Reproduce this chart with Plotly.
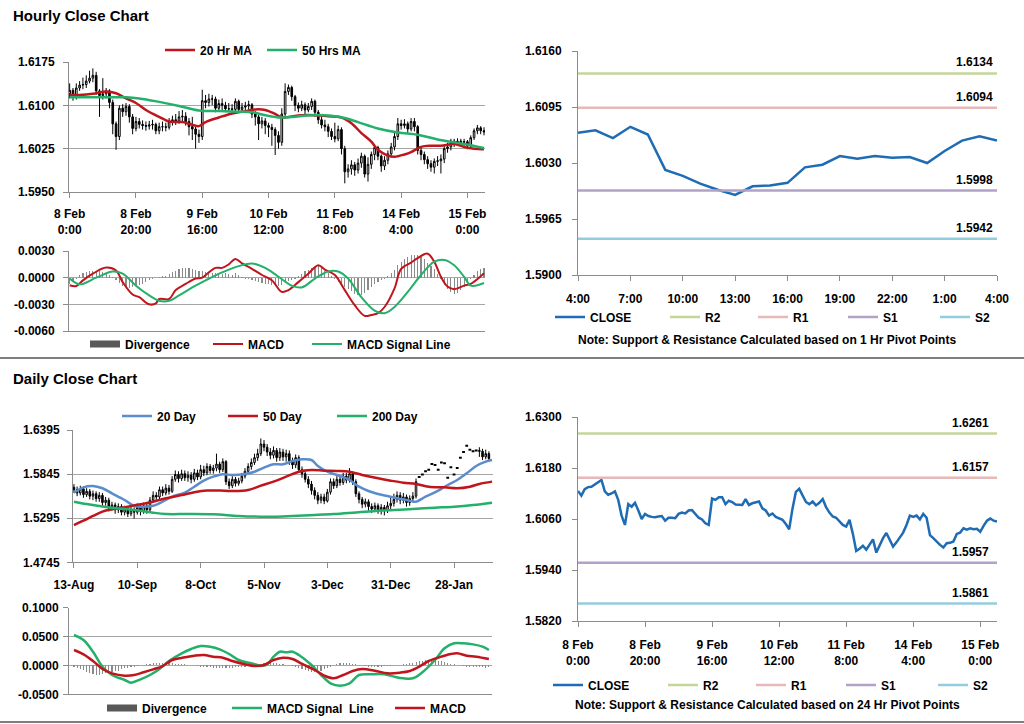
import plotly.graph_objects as go

W, H = 1024, 724
FONT = "Liberation Sans, Arial, sans-serif"

RED = "#c0151c"
GREEN = "#23b06a"
BLUE_MA = "#5b8ccb"
BLUE_CLOSE = "#1f6cb4"
GRAY_BAR = "#8a8a8a"
PIVOT_COLORS = {"R2": "#c3d69b", "R1": "#e6b9b8", "S1": "#b3a2c7", "S2": "#93cddd"}

# ---------------- Hourly data (bar index = hour) ----------------
hourly_labels = ["8 Feb<br>0:00", "8 Feb<br>20:00", "9 Feb<br>16:00", "10 Feb<br>12:00",
                 "11 Feb<br>8:00", "14 Feb<br>4:00", "15 Feb<br>0:00"]
hourly_label_bars = [0, 20, 40, 60, 80, 100, 120]

hourly_first_open = 1.6120
hourly_close = [
    1.6126, 1.6115, 1.6130, 1.6135, 1.6136, 1.6142, 1.6147, 1.6152, 1.6125, 1.6117,
    1.6120, 1.6125, 1.6105, 1.6068, 1.6046, 1.6095, 1.6089, 1.6098, 1.6080, 1.6060,
    1.6072, 1.6067, 1.6065, 1.6064, 1.6066, 1.6067, 1.6056, 1.6063, 1.6063, 1.6062,
    1.6072, 1.6075, 1.6073, 1.6080, 1.6081, 1.6072, 1.6063, 1.6059, 1.6050, 1.6046,
    1.6108, 1.6105, 1.6111, 1.6111, 1.6095, 1.6103, 1.6100, 1.6094, 1.6094, 1.6093,
    1.6107, 1.6093, 1.6097, 1.6099, 1.6101, 1.6085, 1.6080, 1.6068, 1.6073, 1.6065,
    1.6062, 1.6058, 1.6048, 1.6036, 1.6085, 1.6124, 1.6131, 1.6115, 1.6100, 1.6095,
    1.6101, 1.6092, 1.6098, 1.6107, 1.6088, 1.6075, 1.6066, 1.6063, 1.6055, 1.6046,
    1.6042, 1.6058, 1.6025, 1.5985, 1.5990, 1.5997, 1.5988, 1.6000, 1.6012, 1.5981,
    1.5998, 1.6015, 1.6027, 1.6012, 1.5995, 1.6005, 1.6016, 1.6028, 1.6046, 1.6068,
    1.6065, 1.6068, 1.6059, 1.6072, 1.6063, 1.6022, 1.6015, 1.6006, 1.5999, 1.5993,
    1.6003, 1.6004, 1.6007, 1.6025, 1.6028, 1.6038, 1.6035, 1.6038, 1.6036, 1.6037,
    1.6030, 1.6044, 1.6056, 1.6061, 1.6056, 1.6054]
hourly_high = [
    1.6138, 1.6130, 1.6138, 1.6142, 1.6148, 1.6152, 1.6160, 1.6164, 1.6158, 1.6128,
    1.6147, 1.6130, 1.6128, 1.6110, 1.6072, 1.6100, 1.6102, 1.6104, 1.6102, 1.6085,
    1.6080, 1.6078, 1.6074, 1.6072, 1.6073, 1.6075, 1.6070, 1.6070, 1.6072, 1.6070,
    1.6078, 1.6082, 1.6085, 1.6090, 1.6092, 1.6088, 1.6078, 1.6080, 1.6065, 1.6058,
    1.6127, 1.6118, 1.6120, 1.6118, 1.6115, 1.6110, 1.6112, 1.6106, 1.6104, 1.6102,
    1.6112, 1.6110, 1.6104, 1.6106, 1.6108, 1.6104, 1.6090, 1.6084, 1.6080, 1.6078,
    1.6070, 1.6068, 1.6062, 1.6055, 1.6095, 1.6138, 1.6136, 1.6134, 1.6118, 1.6105,
    1.6108, 1.6105, 1.6104, 1.6112, 1.6110, 1.6092, 1.6080, 1.6075, 1.6068, 1.6060,
    1.6070, 1.6065, 1.6062, 1.6030, 1.5998, 1.6005, 1.6002, 1.6008, 1.6018, 1.6015,
    1.6010, 1.6020, 1.6032, 1.6030, 1.6015, 1.6012, 1.6022, 1.6035, 1.6052, 1.6078,
    1.6075, 1.6076, 1.6072, 1.6078, 1.6078, 1.6066, 1.6028, 1.6020, 1.6012, 1.6005,
    1.6008, 1.6012, 1.6015, 1.6030, 1.6035, 1.6042, 1.6042, 1.6043, 1.6042, 1.6042,
    1.6040, 1.6048, 1.6060, 1.6066, 1.6064, 1.6062]
hourly_low = [
    1.6112, 1.6108, 1.6110, 1.6125, 1.6128, 1.6130, 1.6138, 1.6140, 1.6118, 1.6080,
    1.6110, 1.6112, 1.6095, 1.6050, 1.6023, 1.6040, 1.6080, 1.6082, 1.6070, 1.6050,
    1.6055, 1.6060, 1.6058, 1.6056, 1.6058, 1.6058, 1.6050, 1.6050, 1.6055, 1.6055,
    1.6058, 1.6065, 1.6066, 1.6068, 1.6070, 1.6065, 1.6048, 1.6040, 1.6025, 1.6035,
    1.6040, 1.6095, 1.6098, 1.6100, 1.6088, 1.6090, 1.6092, 1.6088, 1.6088, 1.6087,
    1.6088, 1.6088, 1.6088, 1.6090, 1.6092, 1.6078, 1.6065, 1.6040, 1.6060, 1.6050,
    1.6045, 1.6030, 1.6014, 1.6025, 1.6030, 1.6080, 1.6118, 1.6108, 1.6090, 1.6088,
    1.6090, 1.6085, 1.6088, 1.6092, 1.6080, 1.6068, 1.6060, 1.6055, 1.6045, 1.6040,
    1.6036, 1.6038, 1.6015, 1.5965, 1.5975, 1.5980, 1.5978, 1.5982, 1.5992, 1.5975,
    1.5968, 1.5990, 1.6005, 1.6005, 1.5985, 1.5988, 1.5998, 1.6010, 1.6022, 1.6040,
    1.6058, 1.6060, 1.6052, 1.6055, 1.6055, 1.6015, 1.6005, 1.5998, 1.5990, 1.5985,
    1.5982, 1.5995, 1.5982, 1.6000, 1.6018, 1.6022, 1.6028, 1.6030, 1.6030, 1.6030,
    1.6024, 1.6026, 1.6040, 1.6050, 1.6050, 1.6048]

hr_ma20_x = [0, 3, 7, 11, 14, 17, 20, 23, 27, 30, 34, 36, 39, 41, 45, 49, 53, 56, 59, 62,
             64, 66, 70, 74, 78, 82, 85, 88, 91, 93, 96, 98, 101, 103, 106, 109, 112, 116, 119, 122, 125]
hr_ma20 = [1.6118, 1.6118, 1.6120, 1.6124, 1.6121, 1.6112, 1.6104, 1.6092, 1.6080, 1.6072,
           1.6071, 1.6068, 1.6064, 1.6071, 1.6079, 1.6086, 1.6090, 1.6093, 1.6092, 1.6085,
           1.6079, 1.6080, 1.6083, 1.6083, 1.6081, 1.6079, 1.6069, 1.6052, 1.6037, 1.6023,
           1.6013, 1.6011, 1.6015, 1.6019, 1.6028, 1.6030, 1.6030, 1.6033, 1.6028, 1.6025, 1.6024]
hr_ma50_x = [0, 5, 11, 17, 21, 27, 33, 39, 45, 51, 55, 59, 63, 67, 73, 79, 83, 87, 93, 99,
             105, 111, 117, 121, 125]
hr_ma50 = [1.6114, 1.6114, 1.6114, 1.6114, 1.6112, 1.6106, 1.6099, 1.6091, 1.6090, 1.6089,
           1.6088, 1.6083, 1.6079, 1.6080, 1.6083, 1.6082, 1.6078, 1.6071, 1.6060, 1.6053,
           1.6049, 1.6041, 1.6035, 1.6031, 1.6026]

hr_macd_x = [0, 2, 4, 7, 11, 14, 16, 19, 21, 24, 26, 27, 30, 32, 35, 38, 40, 42, 44, 46,
             48, 50, 52, 55, 58, 61, 64, 66, 69, 72, 75, 77, 80, 83, 86, 89, 91, 93, 95, 98,
             100, 103, 105, 108, 110, 112, 114, 116, 119, 121, 125]
hr_macd = [-0.00086, -0.00094, -0.0003, 0.00045, 0.00113, 0.0008, -0.0005, -0.0019, -0.0022, -0.0030,
           -0.0029, -0.0024, -0.0024, -0.0014, -0.0007, -0.0001, 0.0, 0.0006, 0.0011, 0.0011,
           0.0015, 0.0021, 0.0016, 0.0010, 0.0003, -0.0003, -0.0016, -0.0014, -0.0005, 0.00045,
           0.0014, 0.0009, 0.0003, -0.0014, -0.0031, -0.0043, -0.0042, -0.0040, -0.0033, -0.0012,
           0.0010, 0.0017, 0.0022, 0.0027, 0.0018, 0.0001, -0.0010, -0.0013, -0.0009, -0.0007, 0.0005]
hr_signal_x = [0, 3, 8, 13, 16, 20, 24, 27, 30, 33, 37, 41, 46, 51, 55, 59, 63, 67, 70, 74,
               78, 81, 84, 88, 92, 95, 98, 102, 106, 110, 113, 116, 119, 121, 125]
hr_signal = [-0.0001, -0.00075, 0.0, 0.0007, 0.00045, -0.0009, -0.0020, -0.0026, -0.0026, -0.0020,
             -0.0011, -0.0003, 0.0006, 0.0013, 0.0016, 0.0011, 0.0001, -0.0009, -0.0011, -0.0001,
             0.0007, 0.0007, -0.0001, -0.0022, -0.0037, -0.0040, -0.0033, -0.0016, 0.0003, 0.0018,
             0.0020, 0.0014, 0.0001, -0.0009, -0.0006]
hr_divergence = [
    -0.0007, -0.0005, -0.0002, 0.0003, 0.0005, 0.0006, 0.0007, 0.0007, 0.0008, 0.0007,
    0.0006, 0.0005, 0.0003, 0.0001, -0.0003, -0.0006, -0.0009, -0.0011, -0.0012, -0.0011,
    -0.0009, -0.0008, -0.0007, -0.0005, -0.0003, -0.0002, 0.0000, 0.0001, 0.0002, 0.0002,
    0.0004, 0.0006, 0.0008, 0.0010, 0.0011, 0.0011, 0.0011, 0.0010, 0.0009, 0.0008,
    0.0007, 0.0006, 0.0006, 0.0005, 0.0005, 0.0004, 0.0004, 0.0005, 0.0004, 0.0003,
    0.0005, 0.0003, 0.0001, -0.0001, -0.0002, -0.0003, -0.0004, -0.0005, -0.0006, -0.0007,
    -0.0007, -0.0008, -0.0009, -0.0009, -0.0008, -0.0006, -0.0004, -0.0003, -0.0001, 0.0002,
    0.0004, 0.0007, 0.0009, 0.0011, 0.0012, 0.0013, 0.0011, 0.0008, 0.0005, 0.0002,
    -0.0002, -0.0005, -0.0008, -0.0011, -0.0013, -0.0015, -0.0018, -0.0019, -0.0020, -0.0017,
    -0.0014, -0.0010, -0.0007, -0.0005, -0.0003, -0.0001, 0.0002, 0.0005, 0.0009, 0.0014,
    0.0018, 0.0021, 0.0023, 0.0025, 0.0026, 0.0025, 0.0023, 0.0021, 0.0017, 0.0013,
    0.0010, 0.0004, -0.0002, -0.0008, -0.0013, -0.0016, -0.0018, -0.0017, -0.0014, -0.0010,
    -0.0006, -0.0002, 0.0003, 0.0007, 0.0010, 0.0011]

# last-24h view (bars 100..124 of the hourly close)
last24_start, last24_end = 100, 124
last24_labels = ["4:00", "7:00", "10:00", "13:00", "16:00", "19:00", "22:00", "1:00", "4:00"]
last24_label_bars = [100, 103, 106, 109, 112, 115, 118, 121, 124]
pivot_names = ["R2", "R1", "S1", "S2"]
pivots_1hr = [1.6134, 1.6094, 1.5998, 1.5942]
pivots_24hr = [1.6261, 1.6157, 1.5957, 1.5861]

# ---------------- Daily data ----------------
daily_labels = ["13-Aug", "10-Sep", "8-Oct", "5-Nov", "3-Dec", "31-Dec", "28-Jan"]
daily_label_bars = [0, 20, 40, 60, 80, 100, 120]
daily_first_open = 1.568
daily_close = [
    1.565, 1.561, 1.566, 1.559, 1.563, 1.557, 1.560, 1.554, 1.558, 1.549,
    1.552, 1.543, 1.546, 1.540, 1.544, 1.537, 1.541, 1.535, 1.540, 1.537,
    1.543, 1.538, 1.545, 1.540, 1.552, 1.558, 1.556, 1.565, 1.561, 1.567,
    1.563, 1.578, 1.584, 1.579, 1.585, 1.580, 1.583, 1.578, 1.586, 1.581,
    1.590, 1.586, 1.594, 1.589, 1.592, 1.597, 1.590, 1.600, 1.575, 1.570,
    1.578, 1.573, 1.576, 1.582, 1.588, 1.594, 1.599, 1.605, 1.610, 1.622,
    1.618, 1.612, 1.608, 1.614, 1.605, 1.612, 1.606, 1.610, 1.601, 1.596,
    1.605, 1.590, 1.585, 1.578, 1.572, 1.564, 1.558, 1.552, 1.556, 1.551,
    1.562, 1.575, 1.570, 1.578, 1.574, 1.582, 1.577, 1.585, 1.575, 1.560,
    1.553, 1.547, 1.550, 1.544, 1.541, 1.545, 1.540, 1.543, 1.539, 1.545,
    1.548, 1.553, 1.558, 1.552, 1.556, 1.549, 1.554, 1.557, 1.575, 1.581,
    1.584, 1.588, 1.590, 1.597, 1.596, 1.590, 1.599, 1.598, 1.580, 1.593,
    1.584, 1.592, 1.605, 1.612, 1.620, 1.615, 1.613, 1.614, 1.613, 1.606,
    1.610, 1.604]
daily_high = [
    1.572, 1.569, 1.570, 1.569, 1.567, 1.566, 1.564, 1.563, 1.562, 1.561,
    1.556, 1.555, 1.550, 1.549, 1.548, 1.547, 1.545, 1.544, 1.544, 1.543,
    1.548, 1.546, 1.549, 1.548, 1.556, 1.563, 1.562, 1.569, 1.569, 1.572,
    1.571, 1.582, 1.589, 1.588, 1.590, 1.589, 1.588, 1.587, 1.591, 1.590,
    1.596, 1.595, 1.598, 1.597, 1.596, 1.610, 1.600, 1.604, 1.602, 1.579,
    1.582, 1.581, 1.580, 1.586, 1.592, 1.598, 1.604, 1.610, 1.616, 1.629,
    1.627, 1.622, 1.617, 1.619, 1.617, 1.617, 1.616, 1.615, 1.614, 1.605,
    1.609, 1.608, 1.594, 1.589, 1.582, 1.576, 1.568, 1.562, 1.560, 1.560,
    1.566, 1.579, 1.579, 1.582, 1.582, 1.586, 1.586, 1.592, 1.588, 1.578,
    1.563, 1.556, 1.554, 1.553, 1.548, 1.549, 1.548, 1.547, 1.546, 1.550,
    1.556, 1.560, 1.563, 1.562, 1.561, 1.559, 1.558, 1.562, 1.579] + [None] * 19 + [
    1.618, 1.616, 1.615, 1.613]
daily_low = [
    1.561, 1.557, 1.558, 1.555, 1.556, 1.553, 1.552, 1.550, 1.550, 1.545,
    1.545, 1.538, 1.539, 1.535, 1.536, 1.533, 1.533, 1.531, 1.532, 1.529,
    1.534, 1.533, 1.535, 1.535, 1.538, 1.549, 1.551, 1.553, 1.557, 1.558,
    1.559, 1.561, 1.575, 1.574, 1.576, 1.576, 1.575, 1.573, 1.575, 1.577,
    1.578, 1.582, 1.583, 1.585, 1.585, 1.588, 1.586, 1.587, 1.571, 1.566,
    1.567, 1.569, 1.570, 1.573, 1.579, 1.585, 1.590, 1.596, 1.601, 1.607,
    1.613, 1.607, 1.603, 1.604, 1.600, 1.601, 1.601, 1.600, 1.596, 1.591,
    1.592, 1.586, 1.580, 1.574, 1.567, 1.559, 1.553, 1.547, 1.548, 1.547,
    1.549, 1.559, 1.566, 1.567, 1.570, 1.571, 1.573, 1.574, 1.571, 1.556,
    1.548, 1.542, 1.543, 1.539, 1.536, 1.537, 1.535, 1.534, 1.533, 1.536,
    1.541, 1.544, 1.549, 1.547, 1.548, 1.544, 1.545, 1.550, 1.554] + [None] * 19 + [
    1.606, 1.602, 1.603, 1.601]

d_ma20_x = [0, 3, 6, 9, 12, 16, 19, 22, 25, 28, 31, 35, 38, 41, 44, 47, 50, 54, 57, 60,
            63, 66, 69, 72, 75, 77, 80, 84, 87, 90, 93, 96, 99, 102, 106, 108, 111, 115, 118, 121,
            124, 127, 130, 132]
d_ma20 = [1.5613, 1.5680, 1.5697, 1.5668, 1.5605, 1.5522, 1.5447, 1.5439, 1.5451, 1.5501,
          1.5564, 1.5613, 1.5688, 1.5763, 1.5813, 1.5842, 1.5834, 1.5846, 1.5875, 1.5925,
          1.5967, 1.5967, 1.6008, 1.6029, 1.6021, 1.5946, 1.5875, 1.5821, 1.5771, 1.5688,
          1.5634, 1.5597, 1.5572, 1.5543, 1.5514, 1.5501, 1.5564, 1.5638, 1.5709, 1.5771,
          1.5855, 1.5946, 1.6000, 1.6021]
d_ma50_x = [0, 3, 6, 9, 12, 17, 21, 25, 29, 34, 38, 42, 46, 50, 55, 59, 63, 67, 71, 75,
            79, 83, 87, 91, 96, 100, 104, 108, 112, 117, 121, 125, 128, 132]
d_ma50 = [1.5210, 1.5264, 1.5323, 1.5377, 1.5406, 1.5439, 1.5468, 1.5501, 1.5543, 1.5584,
          1.5618, 1.5639, 1.5639, 1.5634, 1.5647, 1.5701, 1.5751, 1.5813, 1.5875, 1.5896,
          1.5888, 1.5884, 1.5875, 1.5834, 1.5792, 1.5763, 1.5738, 1.5722, 1.5688, 1.5680,
          1.5668, 1.5688, 1.5722, 1.5751]
d_ma200_x = [0, 4, 8, 12, 17, 21, 25, 29, 36, 44, 52, 59, 63, 69, 76, 82, 88, 95, 101, 107,
             114, 120, 126, 132]
d_ma200 = [1.5501, 1.5472, 1.5447, 1.5426, 1.5406, 1.5389, 1.5364, 1.5347, 1.5347, 1.5343,
           1.5323, 1.5314, 1.5314, 1.5323, 1.5335, 1.5347, 1.5364, 1.5385, 1.5397, 1.5410,
           1.5426, 1.5439, 1.5460, 1.5489]

d_signal_x = [0, 3, 6, 9, 12, 16, 18, 21, 24, 27, 30, 34, 37, 40, 43, 46, 49, 52, 56, 59,
              61, 63, 65, 67, 69, 71, 75, 78, 81, 84, 87, 90, 94, 98, 101, 104, 107, 110, 114, 117,
              120, 123, 126, 129, 131]
d_signal = [0.0527, 0.0440, 0.0238, -0.0022, -0.0166, -0.0252, -0.0298, -0.0241, -0.0166, -0.0062,
            0.0077, 0.0210, 0.0285, 0.0336, 0.0325, 0.0279, 0.0198, 0.0094, 0.0037, -0.0004,
            0.0019, 0.0152, 0.0238, 0.0227, 0.0238, 0.0181, 0.0008, -0.0166, -0.0310, -0.0350,
            -0.0310, -0.0166, -0.0154, -0.0154, -0.0194, -0.0223, -0.0223, -0.0119, 0.0094, 0.0296,
            0.0383, 0.0383, 0.0365, 0.0325, 0.0267]
d_macd_x = [0, 3, 6, 9, 12, 16, 19, 22, 25, 28, 31, 35, 38, 41, 44, 47, 50, 54, 57, 60,
            63, 66, 69, 72, 76, 79, 82, 85, 88, 91, 95, 99, 103, 106, 109, 112, 116, 119, 121, 124,
            127, 131]
d_macd = [0.0267, 0.0192, 0.0077, -0.0062, -0.0137, -0.0177, -0.0166, -0.0119, -0.0068, -0.0010,
          0.0094, 0.0140, 0.0169, 0.0181, 0.0152, 0.0134, 0.0077, 0.0019, -0.0010, 0.0008,
          0.0094, 0.0134, 0.0111, 0.0025, -0.0079, -0.0177, -0.0223, -0.0166, -0.0096, -0.0062,
          -0.0091, -0.0137, -0.0125, -0.0096, -0.0021, 0.0077, 0.0152, 0.0198, 0.0210, 0.0169,
          0.0152, 0.0111]
d_divergence = [
    -0.002, -0.004, -0.006, -0.008, -0.011, -0.013, -0.015, -0.016, -0.016, -0.015,
    -0.013, -0.012, -0.011, -0.010, -0.009, -0.007, -0.005, -0.004, -0.003, -0.002,
    -0.001, 0.000, 0.001, 0.002, 0.003, 0.004, 0.004, 0.005, 0.005, 0.005,
    0.004, 0.004, 0.003, 0.003, 0.002, 0.002, 0.001, 0.001, 0.000, -0.001,
    -0.002, -0.002, -0.003, -0.003, -0.004, -0.004, -0.005, -0.005, -0.005, -0.004,
    -0.004, -0.003, -0.003, -0.002, -0.002, -0.001, 0.000, 0.001, 0.002, 0.003,
    0.004, 0.005, 0.005, 0.004, 0.004, 0.003, 0.002, 0.001, 0.000, -0.001,
    -0.002, -0.004, -0.006, -0.008, -0.010, -0.011, -0.012, -0.011, -0.009, -0.007,
    -0.004, -0.002, 0.001, 0.003, 0.004, 0.005, 0.005, 0.004, 0.003, 0.002,
    0.001, 0.000, -0.001, -0.002, -0.002, -0.002, -0.002, -0.002, -0.001, -0.001,
    -0.001, 0.000, 0.000, 0.001, 0.002, 0.003, 0.004, 0.005, 0.006, 0.007,
    0.008, 0.009, 0.009, 0.009, 0.008, 0.008, 0.007, 0.006, 0.004, 0.003,
    0.002, 0.001, 0.000, -0.001, -0.002, -0.002, -0.003, -0.003, -0.003, -0.003,
    -0.004, -0.003]

# axis tick values
hr_price_ticks = [1.5950, 1.6025, 1.6100, 1.6175]
hr_macd_ticks = [-0.0060, -0.0030, 0.0000, 0.0030]
last24_ticks = [1.5900, 1.5965, 1.6030, 1.6095, 1.6160]
d_price_ticks = [1.4745, 1.5295, 1.5845, 1.6395]
d_macd_ticks = [-0.0500, 0.0000, 0.0500, 0.1000]
hr24_ticks = [1.5820, 1.5940, 1.6060, 1.6180, 1.6300]


def fx(p):
    return p / W


def fy(p):
    return 1 - p / H


def fmt(v):
    return f"{v:.4f}"


fig = go.Figure()

# ---------- Hourly candles + MAs ----------
hourly_bars = list(range(len(hourly_close)))
hourly_open = [hourly_first_open] + hourly_close[:-1]
fig.add_trace(go.Candlestick(
    x=hourly_bars, open=hourly_open, high=hourly_high, low=hourly_low, close=hourly_close,
    xaxis="x", yaxis="y", showlegend=False, whiskerwidth=0,
    increasing=dict(line=dict(color="black", width=1), fillcolor="white"),
    decreasing=dict(line=dict(color="black", width=1), fillcolor="black")))
fig.add_trace(go.Scatter(x=hr_ma20_x, y=hr_ma20, mode="lines", name="20 Hr MA",
                         line=dict(color=RED, width=2.5, shape="spline"),
                         xaxis="x", yaxis="y", legend="legend"))
fig.add_trace(go.Scatter(x=hr_ma50_x, y=hr_ma50, mode="lines", name="50 Hrs MA",
                         line=dict(color=GREEN, width=2.5, shape="spline"),
                         xaxis="x", yaxis="y", legend="legend"))

# ---------- Hourly MACD ----------
fig.add_trace(go.Bar(x=hourly_bars, y=hr_divergence, width=0.35, marker=dict(color=GRAY_BAR, line=dict(width=0)),
                     xaxis="x2", yaxis="y2", showlegend=False))
fig.add_trace(go.Scatter(x=[None], y=[None], mode="lines", name="Divergence",
                         line=dict(color="#595959", width=7), xaxis="x2", yaxis="y2", legend="legend2"))
fig.add_trace(go.Scatter(x=hr_macd_x, y=hr_macd, mode="lines", name="MACD",
                         line=dict(color=RED, width=2, shape="spline"),
                         xaxis="x2", yaxis="y2", legend="legend2"))
fig.add_trace(go.Scatter(x=hr_signal_x, y=hr_signal, mode="lines", name="MACD Signal Line",
                         line=dict(color=GREEN, width=2, shape="spline"),
                         xaxis="x2", yaxis="y2", legend="legend2"))

# ---------- Last 24 hours with 1 Hr pivots ----------
last24_bars = list(range(last24_start, last24_end + 1))
fig.add_trace(go.Scatter(x=last24_bars, y=hourly_close[last24_start:last24_end + 1], mode="lines",
                         name="CLOSE", line=dict(color=BLUE_CLOSE, width=2.5),
                         xaxis="x3", yaxis="y3", legend="legend3"))
for nm, lv in zip(pivot_names, pivots_1hr):
    fig.add_trace(go.Scatter(x=[last24_start, last24_end], y=[lv, lv], mode="lines", name=nm,
                             line=dict(color=PIVOT_COLORS[nm], width=2.5),
                             xaxis="x3", yaxis="y3", legend="legend3"))
    fig.add_annotation(x=last24_end, y=lv, xref="x3", yref="y3", text=fmt(lv), showarrow=False,
                       xanchor="right", yanchor="bottom", yshift=2, xshift=-2,
                       font=dict(family=FONT, size=12, color="black", weight="bold"))

# ---------- Daily candles + MAs ----------
daily_bars = list(range(len(daily_close)))
daily_open = [daily_first_open] + daily_close[:-1]
ci = [i for i in daily_bars if daily_high[i] is not None]
di = [i for i in daily_bars if daily_high[i] is None]
fig.add_trace(go.Candlestick(
    x=ci, open=[daily_open[i] for i in ci], high=[daily_high[i] for i in ci],
    low=[daily_low[i] for i in ci], close=[daily_close[i] for i in ci],
    xaxis="x4", yaxis="y4", showlegend=False, whiskerwidth=0,
    increasing=dict(line=dict(color="black", width=1), fillcolor="white"),
    decreasing=dict(line=dict(color="black", width=1), fillcolor="black")))
fig.add_trace(go.Scatter(x=di, y=[daily_close[i] for i in di], mode="markers", showlegend=False,
                         marker=dict(symbol="line-ew", size=2, color="black", line=dict(color="black", width=2)),
                         xaxis="x4", yaxis="y4"))
fig.add_trace(go.Scatter(x=d_ma20_x, y=d_ma20, mode="lines", name="20 Day",
                         line=dict(color=BLUE_MA, width=2.5, shape="spline"),
                         xaxis="x4", yaxis="y4", legend="legend4"))
fig.add_trace(go.Scatter(x=d_ma50_x, y=d_ma50, mode="lines", name="50 Day",
                         line=dict(color=RED, width=2.5, shape="spline"),
                         xaxis="x4", yaxis="y4", legend="legend4"))
fig.add_trace(go.Scatter(x=d_ma200_x, y=d_ma200, mode="lines", name="200 Day",
                         line=dict(color=GREEN, width=2.5, shape="spline"),
                         xaxis="x4", yaxis="y4", legend="legend4"))

# ---------- Daily MACD ----------
fig.add_trace(go.Bar(x=daily_bars, y=d_divergence, width=0.35, marker=dict(color=GRAY_BAR, line=dict(width=0)),
                     xaxis="x5", yaxis="y5", showlegend=False))
fig.add_trace(go.Scatter(x=[None], y=[None], mode="lines", name="Divergence",
                         line=dict(color="#595959", width=7), xaxis="x5", yaxis="y5", legend="legend5"))
fig.add_trace(go.Scatter(x=d_signal_x, y=d_signal, mode="lines", name="MACD Signal  Line",
                         line=dict(color=GREEN, width=2.5, shape="spline"),
                         xaxis="x5", yaxis="y5", legend="legend5"))
fig.add_trace(go.Scatter(x=d_macd_x, y=d_macd, mode="lines", name="MACD",
                         line=dict(color=RED, width=2.5, shape="spline"),
                         xaxis="x5", yaxis="y5", legend="legend5"))

# ---------- Hourly close with 24 Hr pivots ----------
fig.add_trace(go.Scatter(x=hourly_bars, y=hourly_close, mode="lines", name="CLOSE",
                         line=dict(color=BLUE_CLOSE, width=2.5),
                         xaxis="x6", yaxis="y6", legend="legend6"))
for nm, lv in zip(pivot_names, pivots_24hr):
    fig.add_trace(go.Scatter(x=[hourly_bars[0], hourly_bars[-1]], y=[lv, lv], mode="lines", name=nm,
                             line=dict(color=PIVOT_COLORS[nm], width=2.5),
                             xaxis="x6", yaxis="y6", legend="legend6"))
    fig.add_annotation(x=hourly_bars[-1], y=lv, xref="x6", yref="y6", text=fmt(lv), showarrow=False,
                       xanchor="right", yanchor="bottom", yshift=2, xshift=-6,
                       font=dict(family=FONT, size=12, color="black", weight="bold"))

# ---------- Axes ----------
TICKFONT = dict(family=FONT, size=12, color="black", weight="bold")
AXLINE = "#8c8c8c"
GRID = "#a6a6a6"


def xax(domain, rng, anchor, tickvals=None, ticktext=None, standoff=6):
    d = dict(domain=domain, range=rng, anchor=anchor, showline=True, linecolor=AXLINE, linewidth=1,
             showgrid=False, zeroline=False, fixedrange=True, tickfont=TICKFONT, automargin=False,
             rangeslider=dict(visible=False))
    if tickvals is None:
        d.update(showticklabels=False, ticks="")
    else:
        d.update(tickmode="array", tickvals=tickvals, ticktext=ticktext, ticks="outside",
                 ticklen=5, tickcolor=AXLINE, ticklabelstandoff=standoff)
    return d


def yax(domain, rng, anchor, tickvals, grid, standoff=6):
    return dict(domain=domain, range=rng, anchor=anchor, showline=True, linecolor=AXLINE, linewidth=1,
                showgrid=grid, gridcolor=GRID, gridwidth=1, zeroline=False, fixedrange=True,
                tickmode="array", tickvals=tickvals, ticktext=[fmt(v) for v in tickvals],
                ticks="outside", ticklen=5, tickcolor=AXLINE, tickfont=TICKFONT, automargin=False,
                ticklabelstandoff=standoff)


LEG = dict(orientation="h", bgcolor="rgba(0,0,0,0)", borderwidth=0, itemwidth=30,
           font=dict(family=FONT, size=12, color="black", weight="bold"),
           xanchor="left", yanchor="middle", itemclick=False, itemdoubleclick=False)

fig.update_layout(
    width=W, height=H, margin=dict(l=0, r=0, t=0, b=0, pad=0, autoexpand=False), autosize=False,
    paper_bgcolor="white", plot_bgcolor="white",
    font=dict(family=FONT, size=12, color="black"),
    bargap=0,
    xaxis=xax([fx(69), fx(485)], [-0.2, 125.3], "y", hourly_label_bars, hourly_labels, 6),
    yaxis=yax([fy(192), fy(62)], [1.5950, 1.6175], "x", hr_price_ticks, True, 6),
    xaxis2=xax([fx(69), fx(485)], [-0.2, 125.3], "y2"),
    yaxis2=yax([fy(331), fy(251)], [-0.0060, 0.0030], "x2", hr_macd_ticks, True, 6),
    xaxis3=xax([fx(578), fx(997)], [last24_start, last24_end], "y3", last24_label_bars, last24_labels, 8),
    yaxis3=yax([fy(275), fy(51)], [1.5900, 1.6160], "x3", last24_ticks, False, 8),
    xaxis4=xax([fx(73), fx(493)], [-0.3, 132.3], "y4", daily_label_bars, daily_labels, 6),
    yaxis4=yax([fy(562.3), fy(430)], [1.4745, 1.6395], "x4", d_price_ticks, True, 5),
    xaxis5=xax([fx(69), fx(492)], [-1.58, 131.98], "y5"),
    yaxis5=yax([fy(694.3), fy(607.7)], [-0.0500, 0.1000], "x5", d_macd_ticks, True, 2),
    xaxis6=xax([fx(578), fx(997)], [0, 125], "y6", hourly_label_bars, hourly_labels, 8),
    yaxis6=yax([fy(621), fy(417)], [1.5820, 1.6300], "x6", hr24_ticks, False, 8),
    legend=dict(LEG, x=fx(160), y=fy(50)),
    legend2=dict(LEG, x=fx(85), y=fy(344)),
    legend3=dict(LEG, x=fx(550), y=fy(317)),
    legend4=dict(LEG, x=fx(117), y=fy(416)),
    legend5=dict(LEG, x=fx(102), y=fy(708)),
    legend6=dict(LEG, x=fx(548), y=fy(685)),
    showlegend=True,
)

# per-item legend widths (gap between entries as in the reference)
legend_widths = {
    ("legend", "20 Hr MA"): 57, ("legend2", "Divergence"): 78, ("legend2", "MACD"): 54,
    ("legend3", "CLOSE"): 70, ("legend3", "R2"): 43, ("legend3", "R1"): 45, ("legend3", "S1"): 47,
    ("legend4", "20 Day"): 61, ("legend4", "50 Day"): 64,
    ("legend5", "Divergence"): 80, ("legend5", "MACD Signal  Line"): 118,
    ("legend6", "CLOSE"): 70, ("legend6", "R2"): 43, ("legend6", "R1"): 45, ("legend6", "S1"): 47,
}
for tr in fig.data:
    key = (getattr(tr, "legend", None), tr.name)
    if key in legend_widths:
        tr.legendwidth = legend_widths[key]

# ---------- Titles, notes, separators ----------
fig.add_annotation(x=fx(11), y=fy(16), xref="paper", yref="paper", text="Hourly Close Chart",
                   showarrow=False, xanchor="left", yanchor="middle",
                   font=dict(family=FONT, size=15, color="black", weight="bold"))
fig.add_annotation(x=fx(11), y=fy(378), xref="paper", yref="paper", text="Daily Close Chart",
                   showarrow=False, xanchor="left", yanchor="middle",
                   font=dict(family=FONT, size=15, color="black", weight="bold"))
fig.add_annotation(x=fx(767), y=fy(340), xref="paper", yref="paper",
                   text="Note: Support & Resistance Calculated based on 1 Hr Pivot Points",
                   showarrow=False, xanchor="center", yanchor="middle",
                   font=dict(family=FONT, size=12, color="black", weight="bold"))
fig.add_annotation(x=fx(767), y=fy(705), xref="paper", yref="paper",
                   text="Note: Support & Resistance Calculated based on 24 Hr Pivot Points",
                   showarrow=False, xanchor="center", yanchor="middle",
                   font=dict(family=FONT, size=12, color="black", weight="bold"))
fig.add_shape(type="line", xref="paper", yref="paper", x0=0, x1=1, y0=fy(358), y1=fy(358),
              line=dict(color="#7f7f7f", width=2))
fig.add_shape(type="line", xref="paper", yref="paper", x0=0, x1=1, y0=fy(722), y1=fy(722),
              line=dict(color="#7f7f7f", width=2))

fig.write_html("out.html", config={"displayModeBar": False, "staticPlot": True},
               post_script="document.body.style.margin='0';document.body.style.overflow='hidden';")
